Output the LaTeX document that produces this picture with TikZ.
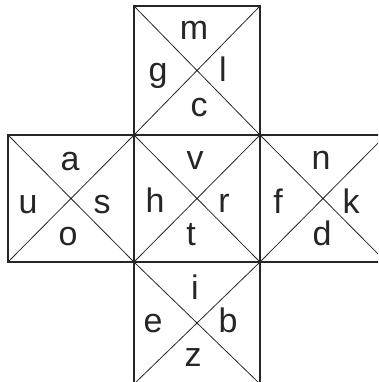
\documentclass[tikz,border=0pt]{standalone}
\usepackage{fontspec}
\setmainfont{Liberation Sans}
\begin{document}
\begin{tikzpicture}[x=1pt,y=-1pt,
  edge/.style={line width=1.3pt,black!85},
  diag/.style={line width=0.8pt,black!85},
  lbl/.style={anchor=base,inner sep=0pt,font=\fontsize{34}{36}\selectfont,text=black!85}]
\useasboundingbox (0,0) rectangle (378,382);
\clip (0,0) rectangle (378,382);
% squares
\draw[edge] (134,6) rectangle (260,135);
\draw[edge] (8,135) rectangle (386,262);
\draw[edge] (134,135) -- (134,262) (260,135) -- (260,262);
\draw[edge] (134,262) rectangle (260,384);
% diagonals
\draw[diag] (134,6) -- (260,135) (260,6) -- (134,135);
\draw[diag] (8,135) -- (134,262) (134,135) -- (8,262);
\draw[diag] (134,135) -- (260,262) (260,135) -- (134,262);
\draw[diag] (260,135) -- (386,262) (386,135) -- (260,262);
\draw[diag] (134,262) -- (260,384) (260,262) -- (134,384);
% letters
\node[lbl] (m) at (194,40) {m};
\node[lbl] (g) at (158,82) {g};
\node[lbl] (l) at (223,82) {l};
\node[lbl] (c) at (199,117) {c};
\node[lbl] (a) at (70,170) {a};
\node[lbl] (u) at (28,213) {u};
\node[lbl] (s) at (102,213) {s};
\node[lbl] (o) at (68,245) {o};
\node[lbl] (v) at (195,169) {v};
\node[lbl] (h) at (155,212) {h};
\node[lbl] (r) at (224,212) {r};
\node[lbl] (t) at (191,245) {t};
\node[lbl] (n) at (321,169) {n};
\node[lbl] (f) at (278,213) {f};
\node[lbl] (k) at (351,213) {k};
\node[lbl] (d) at (322,245) {d};
\node[lbl] (i) at (195,299) {i};
\node[lbl] (e) at (153,332) {e};
\node[lbl] (b) at (228,332) {b};
\node[lbl] (z) at (193,366) {z};
\end{tikzpicture}
\end{document}
